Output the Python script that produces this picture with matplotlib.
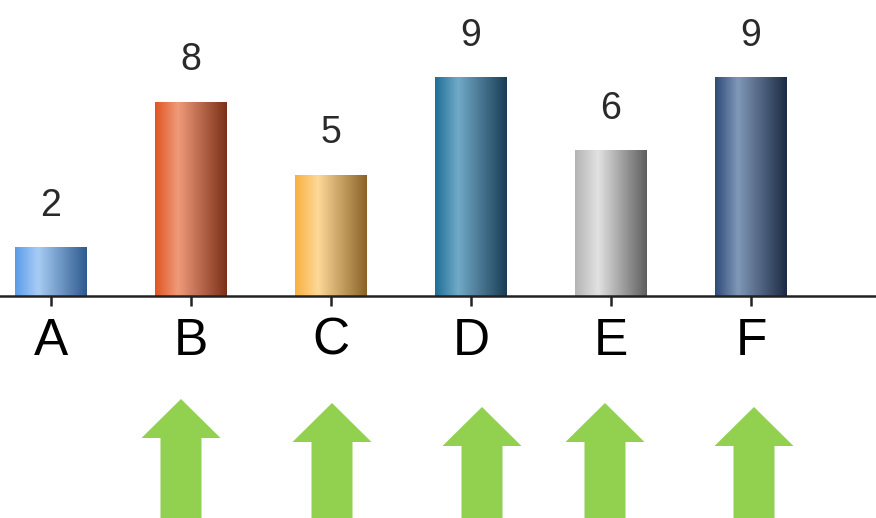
import numpy as np
import matplotlib
matplotlib.use("Agg")
import matplotlib.pyplot as plt
from matplotlib.colors import LinearSegmentedColormap
from matplotlib.patches import Polygon

categories = ["A", "B", "C", "D", "E", "F"]
values = [2, 8, 5, 9, 6, 9]
# left edge, highlight, right edge colours of each cylinder-like bar
bar_left = ["#5a9be8", "#e05522", "#f8b040", "#1e6e98", "#b4b4b4", "#2e4a78"]
bar_high = ["#a8cdf5", "#f09a7a", "#fdd898", "#72aac8", "#e2e2e2", "#8098b8"]
bar_right = ["#2e5a8e", "#7a3018", "#8a6228", "#1a3c55", "#5e5e5e", "#1c2a44"]
arrow_bars = ["B", "C", "D", "E", "F"]

W, H = 876, 518
fig = plt.figure(figsize=(W / 100, H / 100), dpi=100)
ax = fig.add_axes([0, 0, 1, 1])

step_px = 140.0
x0_px = 51.0
unit_px = 24.3
base_px = 296.0
ax.set_xlim(-x0_px / step_px, (W - x0_px) / step_px)
ax.set_ylim(-(H - base_px) / unit_px, base_px / unit_px)

for name in ["top", "left", "right"]:
    ax.spines[name].set_visible(False)
ax.spines["bottom"].set_position(("data", 0))
ax.spines["bottom"].set_color("#222222")
ax.spines["bottom"].set_linewidth(1.8)
ax.spines["bottom"].set_zorder(3)

x = np.arange(len(categories))
bars = ax.bar(x, values, width=0.51, color="none", edgecolor="none", zorder=2)

grad = np.linspace(0, 1, 256).reshape(1, -1)
for i, b in enumerate(bars):
    cmap = LinearSegmentedColormap.from_list(
        f"c{i}", [(0.0, bar_left[i]), (0.32, bar_high[i]), (1.0, bar_right[i])])
    bx, by = b.get_x(), b.get_y()
    bw, bh = b.get_width(), b.get_height()
    im = ax.imshow(grad, cmap=cmap, aspect="auto", extent=(bx, bx + bw, by, by + bh),
                   interpolation="bilinear", zorder=2)
    im.set_clip_path(b)
    ax.annotate(str(values[i]), (x[i], values[i]), xytext=(0, 22.5), textcoords="offset points",
                ha="center", va="baseline", fontsize=27, color="#2a2a2a",
                family="Liberation Sans")

ax.set_yticks([])
ax.set_xticks(x)
ax.set_xticklabels(categories, fontsize=37, family="Liberation Sans", color="black")
ax.tick_params(axis="x", direction="out", length=7, width=1.8, color="#222222", pad=8)

# green up arrows below the chart
dx = [-10, 1, 11, -6, 3]
tip_y = [399, 403, 407, 403, 407]
for k, name in enumerate(arrow_bars):
    i = categories.index(name)
    cx = x0_px + step_px * x[i] + dx[k]
    ty = tip_y[k]
    pts_px = [(cx, ty), (cx + 39.5, ty + 39), (cx + 20.5, ty + 39), (cx + 20.5, H + 5),
              (cx - 20.5, H + 5), (cx - 20.5, ty + 39), (cx - 39.5, ty + 39)]
    pts = [((px - x0_px) / step_px, (base_px - py) / unit_px) for px, py in pts_px]
    ax.add_patch(Polygon(pts, closed=True, facecolor="#92d050", edgecolor="none", zorder=2))

fig.savefig("out.png", dpi=100)
